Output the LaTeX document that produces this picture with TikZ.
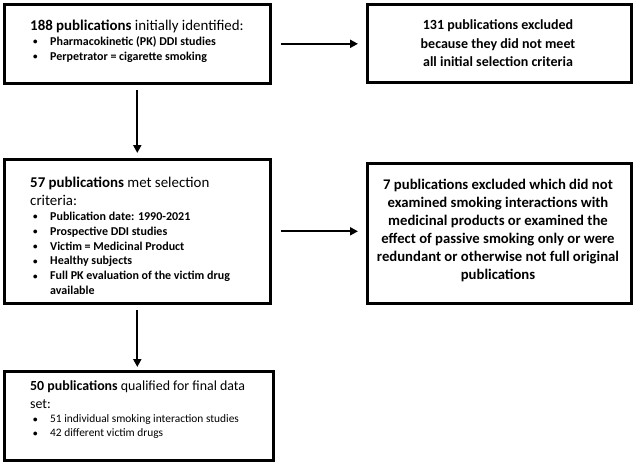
\documentclass[tikz,border=0pt]{standalone}
\usepackage{fontspec}
\setmainfont{Carlito}
\usetikzlibrary{arrows.meta}
\newcommand{\hd}{\fontsize{14.9}{18}\selectfont}
\newcommand{\bl}{\fontsize{12}{14.8}\selectfont}
\newcommand{\hdc}{\fontsize{13.9}{18}\selectfont}
\newcommand{\blc}{\fontsize{11.4}{14}\selectfont}
\newcommand{\bitem}[1]{\par\noindent\hangindent=20pt\hangafter=1\hspace*{3pt}\makebox[17pt][l]{\raisebox{0.5pt}{\fontsize{9}{9}\selectfont\textbf{•}}}#1\par}
\tikzset{
  box/.style={draw=black, line width=2.6pt, rectangle, anchor=north west, inner sep=0pt},
  txt/.style={anchor=north west, inner sep=0pt, align=left},
  ctxt/.style={align=center, inner sep=0pt, font=\bfseries},
  arr/.style={line width=2pt, -{Triangle[length=8pt,width=8pt]}}
}
\begin{document}
\begin{tikzpicture}[x=1pt,y=-1pt]
\useasboundingbox (0,0) rectangle (635,464);
% boxes
\node[box, minimum width=266pt, minimum height=79pt] (b1) at (3,3) {};
\node[box, minimum width=264pt, minimum height=78pt] (r1) at (366,3) {};
\node[box, minimum width=266pt, minimum height=144pt] (b2) at (3,158) {};
\node[box, minimum width=264pt, minimum height=140pt] (r2) at (366,162) {};
\node[box, minimum width=269pt, minimum height=89pt] (b3) at (3,370) {};
% texts
\node[txt] (t1) at (30,20) {\begin{minipage}[t]{235pt}\hyphenpenalty=10000\hd\textbf{188 publications} initially identified:\par\bl\bfseries
\bitem{Pharmacokinetic (PK) DDI studies}
\bitem{Perpetrator = cigarette smoking}
\end{minipage}};
\node[txt] (t2) at (30,177) {\begin{minipage}[t]{235pt}\hyphenpenalty=10000\hd\textbf{57 publications} met selection\\criteria:\par\bl\bfseries
\bitem{Publication date: 1990-2021}
\bitem{Prospective DDI studies}
\bitem{Victim = Medicinal Product}
\bitem{Healthy subjects}
\bitem{Full PK evaluation of the victim drug\\available}
\end{minipage}};
\node[txt] (t3) at (30,381) {\begin{minipage}[t]{240pt}\hyphenpenalty=10000\hdc\textbf{50 publications} qualified for final data\\set:\par\blc
\bitem{51 individual smoking interaction studies}
\bitem{42 different victim drugs}
\end{minipage}};
\node[ctxt, font=\fontsize{14}{18.5}\selectfont\bfseries] (u1) at (498,43.5) {131 publications excluded\\because they did not meet\\all initial selection criteria};
\node[ctxt, font=\fontsize{14.7}{18}\selectfont\bfseries] (u2) at (498,230) {7 publications excluded which did not\\examined smoking interactions with\\medicinal products or examined the\\effect of passive smoking only or were\\redundant or otherwise not full original\\publications};
% arrows
\draw[arr, shorten <=9pt, shorten >=8pt] (b1.east) -- (b1.east -| r1.west);
\draw[arr, shorten <=9pt, shorten >=8pt] (b2.east) -- (b2.east -| r2.west);
\draw[arr, shorten <=5pt, shorten >=5pt] (b1.south) -- (b2.north);
\draw[arr, shorten <=5pt, shorten >=3pt] (b2.south) -- (b2.south |- b3.north);
\end{tikzpicture}
\end{document}
